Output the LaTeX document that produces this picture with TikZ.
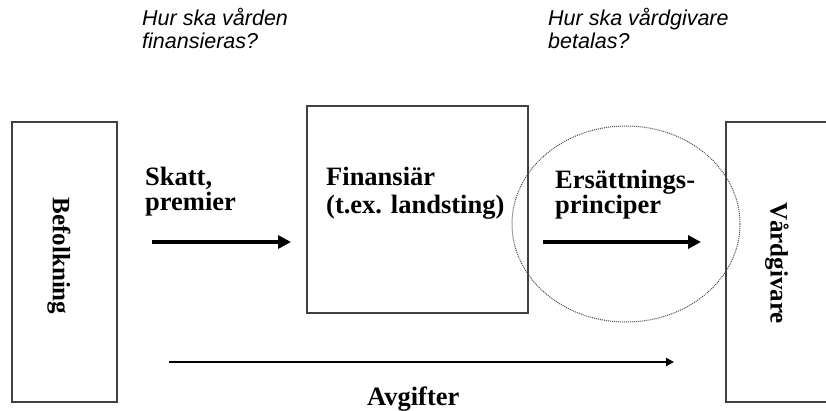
\documentclass[tikz,border=0pt]{standalone}
\usepackage{fontspec}
\setmainfont{Liberation Serif}
\newfontfamily\hsans{Liberation Sans}
\usetikzlibrary{arrows.meta,shapes.geometric}
\begin{document}
\begin{tikzpicture}[x=1pt,y=-1pt,
  box/.style={draw=black!75, line width=1.3pt, inner sep=0},
  boldtext/.style={font=\fontsize{26.5}{28}\selectfont\bfseries, inner sep=0, anchor=base west},
  vlabel/.style={font=\fontsize{25}{27}\selectfont\bfseries, rotate=-90, inner sep=0},
  question/.style={font=\fontsize{21.5}{24}\hsans\itshape, inner sep=0, anchor=base west},
  bigarrow/.style={line width=4pt, -{Triangle[length=13pt,width=13pt]}},
  smallarrow/.style={line width=2pt, -{Triangle[length=8pt,width=8pt]}},
  ring/.style={draw=black!70, densely dotted, line width=1pt, ellipse, inner sep=0}]
\useasboundingbox (0,0) rectangle (826,410);
\fill[white] (0,0) rectangle (826,410);

% boxes
\node[box, minimum width=105pt, minimum height=280pt] (bef) at (64.5,262) {};
\node[box, minimum width=221pt, minimum height=207pt] (fin) at (417.5,209.5) {};
\node[box, minimum width=114pt, minimum height=280pt] (vard) at (783,262) {};
\node[ring, minimum width=228pt, minimum height=196pt] (circ) at (626,224) {};

% vertical labels
\node[vlabel] (befl) at (59,256) {Befolkning};
\node[vlabel] (vardl) at (777,263) {Vårdgivare};

% bold labels
\node[boldtext] (sk1) at (145,185) {Skatt,};
\node[boldtext] (sk2) at (145,210) {premier};
\node[boldtext] (fi1) at (326,185) {Finansiär};
\node[boldtext] (fi2) at (326,213) {(t.ex. landsting)};
\node[boldtext] (er1) at (555,188) {Ersättnings-};
\node[boldtext] (er2) at (555,213) {principer};
\node[boldtext] (avg) at (367,405) {Avgifter};

% questions
\node[question] (q1a) at (142,25) {Hur ska vården};
\node[question] (q1b) at (142,48) {finansieras?};
\node[question] (q2a) at (548,25) {Hur ska vårdgivare};
\node[question] (q2b) at (548,48) {betalas?};

% arrows
\coordinate (a1s) at (152,242);
\coordinate (a1e) at (291,242);
\coordinate (a2s) at (543,242);
\coordinate (a2e) at (701,242);
\coordinate (a3s) at (169,362);
\coordinate (a3e) at (674,362);
\draw[bigarrow] (a1s) -- (a1e);
\draw[bigarrow] (a2s) -- (a2e);
\draw[smallarrow] (a3s) -- (a3e);
\end{tikzpicture}
\end{document}
